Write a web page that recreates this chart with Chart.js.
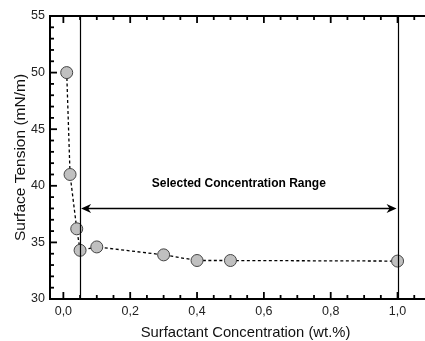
<!DOCTYPE html>
<html>
<head>
<meta charset="utf-8">
<script src="https://cdn.jsdelivr.net/npm/chart.js@4/dist/chart.umd.min.js"></script>
<style>
html,body{margin:0;padding:0;background:#fff;overflow:hidden;}
#wrap{position:absolute;left:0;top:0;width:448px;height:341px;}
</style>
</head>
<body>
<div id="wrap"><canvas id="c" width="448" height="341"></canvas></div>
<script>
// ---- data ----
const concentrations = [0.01, 0.02, 0.04, 0.05, 0.1, 0.3, 0.4, 0.5, 1.0];
const surfaceTension = [50.0, 41.0, 36.2, 34.3, 34.6, 33.9, 33.4, 33.4, 33.35];
const xTickValues = [0, 0.2, 0.4, 0.6, 0.8, 1.0];
const xTickLabels = ['0,0', '0,2', '0,4', '0,6', '0,8', '1,0'];
const yTickValues = [30, 35, 40, 45, 50, 55];
const yTickLabels = ['30', '35', '40', '45', '50', '55'];
const rangeStart = 0.05;
const rangeEnd = 1.0;
const arrowLevel = 38;
const rangeLabel = 'Selected Concentration Range';
const rangeLabelLevel = 40.2;

const xMinor = []; for (let i = 0; i <= 22; i++) xMinor.push(i * 0.05);
const yMinor = []; for (let v = 30; v <= 55; v++) yMinor.push(v);

const decor = {
  id: 'decor',
  afterDatasetsDraw(chart) {
    const ctx = chart.ctx, a = chart.chartArea;
    const xs = chart.scales.x, ys = chart.scales.y;
    ctx.save();
    // vertical range lines
    ctx.strokeStyle = '#000'; ctx.lineWidth = 1.2;
    [rangeStart, rangeEnd].forEach(v => {
      const px = Math.round(xs.getPixelForValue(v)) + 0.5;
      ctx.beginPath(); ctx.moveTo(px, a.top); ctx.lineTo(px, a.bottom); ctx.stroke();
    });
    // arrow
    const ay = Math.round(ys.getPixelForValue(arrowLevel)) + 0.5;
    const x1 = xs.getPixelForValue(rangeStart) + 1, x2 = xs.getPixelForValue(rangeEnd) - 1;
    ctx.lineWidth = 1.5;
    ctx.beginPath(); ctx.moveTo(x1 + 4, ay); ctx.lineTo(x2 - 4, ay); ctx.stroke();
    ctx.fillStyle = '#000';
    const head = (tip, dir) => {
      ctx.beginPath();
      ctx.moveTo(tip, ay);
      ctx.lineTo(tip + dir * 10, ay - 4.5);
      ctx.lineTo(tip + dir * 7, ay);
      ctx.lineTo(tip + dir * 10, ay + 4.5);
      ctx.closePath(); ctx.fill();
    };
    head(x1, 1); head(x2, -1);
    // label
    ctx.font = 'bold 12px "Liberation Sans", Arial, sans-serif';
    ctx.textAlign = 'center'; ctx.textBaseline = 'middle';
    ctx.fillText(rangeLabel, xs.getPixelForValue((rangeStart + rangeEnd) / 2), ys.getPixelForValue(rangeLabelLevel));
    // frame
    ctx.lineWidth = 2;
    ctx.strokeRect(a.left, a.top, a.right - a.left, a.bottom - a.top);
    // inward ticks
    ctx.lineWidth = 1.8;
    xMinor.forEach(v => {
      const major = Math.abs(v / 0.2 - Math.round(v / 0.2)) < 1e-6;
      const len = major ? 7 : 4;
      const px = xs.getPixelForValue(v);
      if (px < a.left + 1 || px > a.right - 1) return;
      ctx.beginPath(); ctx.moveTo(px, a.bottom); ctx.lineTo(px, a.bottom - len); ctx.stroke();
      ctx.beginPath(); ctx.moveTo(px, a.top); ctx.lineTo(px, a.top + len); ctx.stroke();
    });
    yMinor.forEach(v => {
      const major = v % 5 === 0;
      const len = major ? 7 : 4;
      const py = ys.getPixelForValue(v);
      ctx.beginPath(); ctx.moveTo(a.left, py); ctx.lineTo(a.left + len, py); ctx.stroke();
      ctx.beginPath(); ctx.moveTo(a.right, py); ctx.lineTo(a.right - len, py); ctx.stroke();
    });
    ctx.restore();
  }
};

new Chart(document.getElementById('c'), {
  type: 'scatter',
  data: {
    datasets: [{
      data: concentrations.map((x, i) => ({ x: x, y: surfaceTension[i] })),
      showLine: true,
      borderColor: '#000',
      borderWidth: 1.3,
      borderDash: [3, 2.5],
      pointRadius: 6,
      pointHoverRadius: 6,
      pointBackgroundColor: '#c0c0c0',
      pointBorderColor: '#444',
      pointBorderWidth: 1
    }]
  },
  options: {
    responsive: false,
    animation: false,
    events: [],
    layout: { padding: { top: 16, right: 0, left: 0, bottom: 0 } },
    plugins: { legend: { display: false }, tooltip: { enabled: false } },
    scales: {
      x: {
        type: 'linear', min: -0.04, max: 1.13,
        afterBuildTicks: s => { s.ticks = xTickValues.map(v => ({ value: v })); },
        afterFit: s => { s.height = 42; },
        grid: { display: false, drawTicks: false },
        border: { display: false },
        ticks: {
          padding: 5,
          color: '#222',
          font: { family: '"Liberation Sans", Arial, sans-serif', size: 12.5 },
          callback: (v, i) => xTickLabels[i]
        },
        title: {
          display: true, text: 'Surfactant Concentration (wt.%)', color: '#111',
          font: { family: '"Liberation Sans", Arial, sans-serif', size: 14.8, lineHeight: 1.1 },
          padding: { top: 0, bottom: 0 }
        }
      },
      y: {
        type: 'linear', min: 30, max: 55,
        afterBuildTicks: s => { s.ticks = yTickValues.map(v => ({ value: v })); },
        afterFit: s => { s.width = 50; },
        grid: { display: false, drawTicks: false },
        border: { display: false },
        ticks: {
          padding: 5,
          color: '#222',
          font: { family: '"Liberation Sans", Arial, sans-serif', size: 12.5 },
          callback: (v, i) => yTickLabels[i]
        },
        title: {
          display: true, text: 'Surface Tension (mN/m)', color: '#111',
          font: { family: '"Liberation Sans", Arial, sans-serif', size: 15.5, lineHeight: 1.2 },
          padding: { top: 11, bottom: 0 }
        }
      }
    }
  },
  plugins: [decor]
});
</script>
</body>
</html>
